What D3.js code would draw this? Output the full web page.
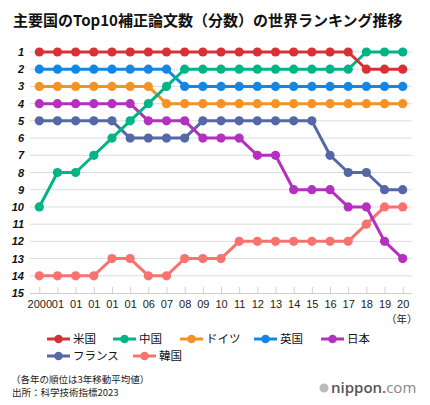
<!DOCTYPE html>
<html><head><meta charset="utf-8">
<script src="https://cdn.jsdelivr.net/npm/d3@7"></script>
<style>
html,body{margin:0;padding:0;background:#fff;}
svg{display:block;}
text{font-family:"Liberation Sans","Noto Sans CJK JP",sans-serif;}
.jp{font-family:"Noto Sans CJK JP",sans-serif;}
</style></head>
<body>
<svg id="chart" width="430" height="405"></svg>
<script>
const years = d3.range(2000, 2021);
const yearLabels = ["2000","01","01","01","01","01","06","07","08","09","10","11","12","13","14","15","16","17","18","19","20"];
const rankTicks = d3.range(1, 16);
const seriesNames = ["米国","中国","ドイツ","英国","日本","フランス","韓国"];
const seriesColors = ["#d93036","#00b585","#f39325","#1486e3","#b331be","#5567a7","#f8736f"];
const usa     = [1,1,1,1,1,1,1,1,1,1,1,1,1,1,1,1,1,1,2,2,2];
const china   = [10,8,8,7,6,5,4,3,2,2,2,2,2,2,2,2,2,2,1,1,1];
const germany = [3,3,3,3,3,3,3,4,4,4,4,4,4,4,4,4,4,4,4,4,4];
const uk      = [2,2,2,2,2,2,2,2,3,3,3,3,3,3,3,3,3,3,3,3,3];
const japan   = [4,4,4,4,4,4,5,5,5,6,6,6,7,7,9,9,9,10,10,12,13];
const france  = [5,5,5,5,5,6,6,6,6,5,5,5,5,5,5,5,7,8,8,9,9];
const korea   = [14,14,14,14,13,13,14,14,13,13,13,12,12,12,12,12,12,12,11,10,10];
const seriesValues = [usa, china, germany, uk, japan, france, korea];

const svg = d3.select("#chart");
const x = d3.scalePoint().domain(years).range([39.3, 402.7]);
const y = d3.scaleLinear().domain([1, 15]).range([52, 293]);

// title
svg.append("text").attr("class","jp").attr("x", 13).attr("y", 26)
  .attr("font-size", 15).attr("font-weight", "bold").attr("fill", "#111")
  .text("主要国のTop10補正論文数（分数）の世界ランキング推移");

// grid
svg.append("g").selectAll("line").data(rankTicks.slice(0, -1)).join("line")
  .attr("x1", 30).attr("x2", 412)
  .attr("y1", d => y(d)).attr("y2", d => y(d))
  .attr("stroke", "#dcdcdc").attr("stroke-width", 1);

// y axis labels
const yAxis = d3.axisLeft(y).tickValues(rankTicks).tickSize(0).tickPadding(0);
const gy = svg.append("g").attr("transform", "translate(24,0)").call(yAxis);
gy.select(".domain").remove();
gy.selectAll("text").attr("font-size", 11).attr("font-weight", "bold")
  .attr("font-style", "italic").attr("fill", "#111")
  .style("font-family", "'Liberation Sans',sans-serif");

// x axis
const xAxis = d3.axisTop(x).tickSize(6).tickFormat((d, i) => yearLabels[i]);
const gx = svg.append("g").attr("transform", `translate(0,${y(15)})`).call(xAxis);
gx.select(".domain").attr("d", `M30,0.5H412`).attr("stroke", "#cfcfcf");
gx.selectAll(".tick line").attr("stroke", "#cfcfcf");
gx.selectAll(".tick text").attr("y", 15).attr("dy", "0").attr("font-size", 11)
  .attr("fill", "#222").style("font-family", "'Liberation Sans',sans-serif");
svg.append("text").attr("class","jp").attr("x", x(2020)).attr("y", 323)
  .attr("text-anchor", "middle").attr("font-size", 10.5).attr("fill", "#222").text("（年）")
  .attr("dx", -1);

// lines
const line = d3.line().x((d, i) => x(years[i])).y(d => y(d));
const order = [6, 5, 4, 3, 2, 1, 0];
order.forEach(k => {
  const g = svg.append("g");
  g.append("path").datum(seriesValues[k]).attr("d", line)
    .attr("fill", "none").attr("stroke", seriesColors[k]).attr("stroke-width", 3)
    .attr("stroke-linejoin", "round");
  g.selectAll("circle").data(seriesValues[k]).join("circle")
    .attr("cx", (d, i) => x(years[i])).attr("cy", d => y(d)).attr("r", 4.6)
    .attr("fill", seriesColors[k]);
});

// legend
const legendPos = [[47,339],[113,339],[180,339],[254,339],[321,339],[47,356],[133,356]];
seriesNames.forEach((n, k) => {
  const [lx, ly] = legendPos[k];
  const g = svg.append("g").attr("transform", `translate(${lx},${ly})`);
  g.append("line").attr("x1", 0).attr("x2", 23).attr("y1", 0).attr("y2", 0)
    .attr("stroke", seriesColors[k]).attr("stroke-width", 3);
  g.append("circle").attr("cx", 11.5).attr("cy", 0).attr("r", 4.3).attr("fill", seriesColors[k]);
  g.append("text").attr("class","jp").attr("x", 26).attr("y", 0).attr("dy", "0.36em")
    .attr("font-size", 11.5).attr("fill", "#111").text(n);
});

// notes
svg.append("text").attr("class","jp").attr("x", 11).attr("y", 383)
  .attr("font-size", 9.5).attr("fill", "#222").text("（各年の順位は3年移動平均値）");
svg.append("text").attr("class","jp").attr("x", 12).attr("y", 396)
  .attr("font-size", 9.5).attr("fill", "#222").text("出所：科学技術指標2023");

// logo
const logo = svg.append("g").attr("transform", "translate(324,388)");
logo.append("circle").attr("cx", 0).attr("cy", 0).attr("r", 4.5).attr("fill", "#bbb");
logo.append("text").attr("x", 7).attr("y", 5).attr("font-size", 15)
  .style("font-family", "'Open Sans',sans-serif")
  .call(t => {
    t.append("tspan").attr("fill", "#555").attr("font-weight", 600).text("nippon");
    t.append("tspan").attr("fill", "#e8242b").attr("font-weight", 600).text(".");
    t.append("tspan").attr("fill", "#888").text("com");
  });
</script>
</body></html>
